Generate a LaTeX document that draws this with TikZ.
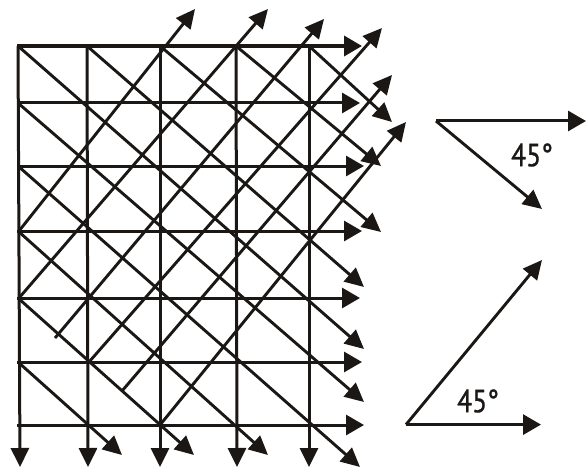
\documentclass[tikz,border=0pt]{standalone}
\usepackage{fontspec}
\setmainfont{PT Sans}
\newfontfamily\labelfont[FakeStretch=0.86,FakeBold=0.9]{PT Sans}
\usetikzlibrary{arrows.meta}
\definecolor{ink}{HTML}{1A1715}
\tikzset{
  hbar/.style={draw=ink,line width=3pt,-{Triangle[length=18pt,width=20pt]}},
  topbar/.style={hbar,line width=3.6pt},
  vbar/.style={draw=ink,line width=3pt,-{Triangle[length=19pt,width=18pt]}},
  diag/.style={draw=ink,line width=2.9pt,-{Triangle[length=19pt,width=18pt]}},
  anglabel/.style={text=ink,font=\labelfont\fontsize{32}{32}\selectfont,inner sep=0pt}
}
\begin{document}
\begin{tikzpicture}[x=1pt,y=-1pt]
\useasboundingbox (0,0) rectangle (586,468);
% verticals
\foreach \xa/\xb in {18/20,87/88,160/160,236/237,309/309}
  \draw[vbar] (\xa,46) -- (\xb,467);
% horizontals
\draw[topbar] (17,46) -- (362,46);
\foreach \ya/\xe in {103/360,166/364,231/362,298/360,362/362,425/364}
  \draw[hbar] (17,\ya) -- (\xe,\ya);
% down-right diagonals
\foreach \xa/\ya/\xe/\ye in {
  18/46/364/349, 87/46/364/287, 160/46/381/232, 236/46/381/166, 309/46/392/122,
  18/103/364/402, 18/166/360/467, 18/231/268/455, 18/298/194/455, 18/362/122/455}
  \draw[diag] (\xa,\ya) -- (\xe,\ye);
% up-right diagonals
\foreach \xa/\ya/\xe/\ye in {
  19/231/195/9, 19/298/268/9, 55/338/324/19, 89/362/382/28, 122/391/392/75, 160/425/406/122}
  \draw[diag] (\xa,\ya) -- (\xe,\ye);
% legend, upper
\coordinate (u0) at (436,121);
\coordinate (u1) at (586,121);
\coordinate (u2) at (542,209);
\draw[hbar] (u0) -- (u1);
\draw[diag] (u0) -- (u2);
\node[anglabel] (ulabel) at (532,155) {45°};
% legend, lower
\coordinate (l0) at (406,424.6);
\coordinate (l1) at (541,424.6);
\coordinate (l2) at (542,260);
\draw[hbar] (l0) -- (l1);
\draw[diag] (l0) -- (l2);
\node[anglabel] (llabel) at (478,401) {45°};
\end{tikzpicture}
\end{document}
